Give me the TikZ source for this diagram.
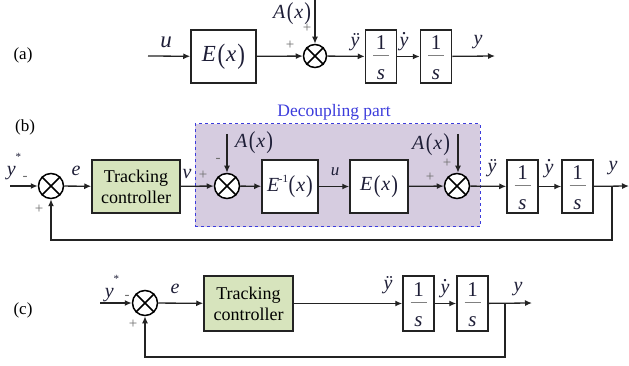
\documentclass[tikz,border=0pt]{standalone}
\usepackage{fontspec}
\setmainfont{Liberation Serif}
\usetikzlibrary{arrows.meta,calc}

\definecolor{ink}{RGB}{30,30,55}
\definecolor{wire}{RGB}{35,35,35}
\definecolor{trackfill}{RGB}{215,228,189}
\definecolor{decfill}{RGB}{214,204,224}
\definecolor{decblue}{RGB}{60,60,220}
\definecolor{signgray}{RGB}{110,110,110}

% dotted y built from a raised period
\newcommand{\ydot}{\ooalign{\textit{y}\cr\hidewidth\raisebox{0.58em}{.}\hidewidth\cr}}
\newcommand{\yddot}{\textit{\"y}}
\newcommand{\ystar}{\textit{y}\raisebox{0.75em}{\fontsize{11}{11}\selectfont*}}
% tall parentheses around an italic x, preceded by a function letter
\newcommand{\tallp}[1]{\raisebox{-0.08em}{\scalebox{1}[1.22]{#1}}}
\newcommand{\fofx}[2]{\textit{#1}#2\kern1.5pt\tallp{(}\kern1pt\textit{x}\kern1pt\tallp{)}}

\tikzset{
  blk/.style={draw=wire,line width=1.5pt,fill=white,inner sep=0pt},
  ctrl/.style={blk,fill=trackfill,align=center,font=\fontsize{18}{21}\selectfont},
  sumnode/.style={circle,draw=black,line width=1.5pt,fill=white,minimum size=24pt,inner sep=0pt},
  sig/.style={line width=1.3pt,draw=wire,-{Latex[length=7pt,width=6pt]}},
  mlab/.style={text=ink,font=\fontsize{20}{23}\selectfont,inner sep=0pt},
  bigm/.style={text=ink,font=\fontsize{23}{27}\selectfont,inner sep=0pt},
  sgn/.style={text=signgray,font=\fontsize{15}{15}\selectfont,inner sep=0pt},
  panellabel/.style={font=\fontsize{17}{20}\selectfont,inner sep=0pt},
}

% integrator block 1/s: name, centre, height
\newcommand{\intbox}[3]{%
  \node[blk,minimum width=31pt,minimum height=#3] (#1) at (#2) {};
  \node[text=ink,font=\fontsize{21}{24}\selectfont,anchor=base,inner sep=0pt] at ($(#1.center)+(0,-7)$) {1};
  \draw[line width=0.8pt,draw=gray] ($(#1.center)+(-8,-1.5)$) -- ($(#1.center)+(8,-1.5)$);
  \node[text=ink,font=\fontsize{21}{24}\selectfont\itshape,anchor=base,inner sep=0pt] at ($(#1.center)+(0,23)$) {s};
}
% summing junction with a cross
\newcommand{\sumjunction}[3]{%
  \node[sumnode,minimum size=#3] (#1) at (#2) {};
  \draw[line width=1.5pt] (#1.north west) -- (#1.south east) (#1.north east) -- (#1.south west);
}

\begin{document}
\begin{tikzpicture}[x=1pt,y=-1pt]
\useasboundingbox (0,0) rectangle (629,366);

% ---------------- (a) open-loop plant ----------------
\node[panellabel] at (23,55) {(a)};
\coordinate (ua) at (148,56);
\node[blk,minimum width=65pt,minimum height=53pt,bigm] (Ea) at (223.5,56.5) {\fofx{E}{}};
\sumjunction{sa}{315,56}{23pt}
\coordinate (Atopa) at (315,0);
\intbox{ia1}{381,56.5}{53pt}
\intbox{ia2}{436,56.5}{53pt}
\coordinate (ya) at (495,56);

\draw[sig] (ua) -- (Ea);
\draw[sig] (Ea) -- (sa);
\draw[sig] (Atopa) -- (sa);
\draw[sig] (sa) -- (ia1);
\draw[sig] (ia1) -- (ia2);
\draw[sig] (ia2) -- (ya);

\node[bigm] at (166,42) {\textit{u}};
\node[mlab] at (292,14) {\fofx{A}{}};
\node[sgn] at (290,45) {+};
\node[sgn] at (307,28) {+};
\node[mlab] at (355,42) {\yddot};
\node[mlab] at (404,42) {\ydot};
\node[mlab] at (478,42) {\textit{y}};

% ---------------- (b) closed loop with decoupling ----------------
\node[panellabel] at (25,127) {(b)};
\node[draw=decblue,dashed,line width=1pt,fill=decfill,minimum width=285pt,minimum height=103pt,inner sep=0pt] (dec) at (337.5,175.5) {};
\node[text=decblue,font=\fontsize{17.5}{20}\selectfont,inner sep=0pt] at (334,112) {Decoupling part};

\coordinate (yrb) at (10,186);
\sumjunction{sb1}{51,186}{25pt}
\node[ctrl,minimum width=88pt,minimum height=53pt] (Tb) at (136,186.5) {Tracking\\controller};
\sumjunction{sb2}{227,186}{25pt}
\coordinate (Atopb1) at (227,134);
\node[blk,minimum width=56pt,minimum height=53pt,mlab] (Einv) at (290,186.5) {\textit{E}\kern-0.5pt\raisebox{0.45em}{\fontsize{11}{11}\selectfont-1}\kern0.5pt\tallp{(}\kern1pt\textit{x}\kern1pt\tallp{)}};
\node[blk,minimum width=58pt,minimum height=53pt,mlab] (Eb) at (379,186.5) {\fofx{E}{}};
\sumjunction{sb3}{457,186}{25pt}
\coordinate (Atopb2) at (458,134);
\intbox{ib1}{522.5,186.5}{53pt}
\intbox{ib2}{577.5,186.5}{53pt}
\coordinate (brb) at (612,186);
\coordinate (yb) at (629,186);
\coordinate (fbb1) at (612,240);
\coordinate (fbb2) at (51,240);

\draw[sig] (yrb) -- (sb1);
\draw[sig] (sb1) -- (Tb);
\draw[sig] (Tb) -- (sb2);
\draw[sig] (Atopb1) -- (sb2);
\draw[sig] (sb2) -- (Einv);
\draw[sig] (Einv) -- (Eb);
\draw[sig] (Eb) -- (sb3);
\draw[sig] (Atopb2) -- (sb3.north-|Atopb2);
\draw[sig] (sb3) -- (ib1);
\draw[sig] (ib1) -- (ib2);
\draw[sig] (ib2) -- (yb);
\draw[sig] (brb) -- (fbb1) -- (fbb2) -- (sb1);

\node[mlab] at (14,167) {\ystar};
\node[sgn] at (25,178) {-};
\node[sgn] at (39,209) {+};
\node[mlab] at (76,171) {\textit{e}};
\node[mlab] at (187,174) {\textit{v}};
\node[sgn] at (203,175) {+};
\node[sgn] at (218,160) {-};
\node[mlab] at (254,143) {\fofx{A}{}};
\node[text=ink,font=\fontsize{17}{20}\selectfont\itshape,inner sep=0pt] at (335,172) {u};
\node[sgn] at (430,177) {+};
\node[sgn] at (447,163) {+};
\node[mlab] at (431,145) {\fofx{A}{}};
\node[mlab] at (492,168) {\yddot};
\node[mlab] at (549,169) {\ydot};
\node[mlab] at (613,168) {\textit{y}};

% ---------------- (c) equivalent loop ----------------
\node[panellabel] at (23,310) {(c)};
\coordinate (yrc) at (100,303);
\sumjunction{sc1}{145,303}{25pt}
\node[ctrl,minimum width=89pt,minimum height=55pt] (Tc) at (248.5,303.5) {Tracking\\controller};
\intbox{ic1}{418.5,303.5}{55pt}
\intbox{ic2}{472.5,303.5}{55pt}
\coordinate (brc) at (505,303);
\coordinate (yc) at (532,303);
\coordinate (fbc1) at (505,357);
\coordinate (fbc2) at (145,357);

\draw[sig] (yrc) -- (sc1);
\draw[sig] (sc1) -- (Tc);
\draw[sig] (Tc) -- (ic1);
\draw[sig] (ic1) -- (ic2);
\draw[sig] (ic2) -- (yc);
\draw[sig] (brc) -- (fbc1) -- (fbc2) -- (sc1);

\node[mlab] at (112,289) {\ystar};
\node[sgn] at (127,297) {-};
\node[sgn] at (133,324) {+};
\node[mlab] at (175,289) {\textit{e}};
\node[mlab] at (388,285) {\yddot};
\node[mlab] at (445,289) {\ydot};
\node[mlab] at (518,289) {\textit{y}};
\end{tikzpicture}
\end{document}
